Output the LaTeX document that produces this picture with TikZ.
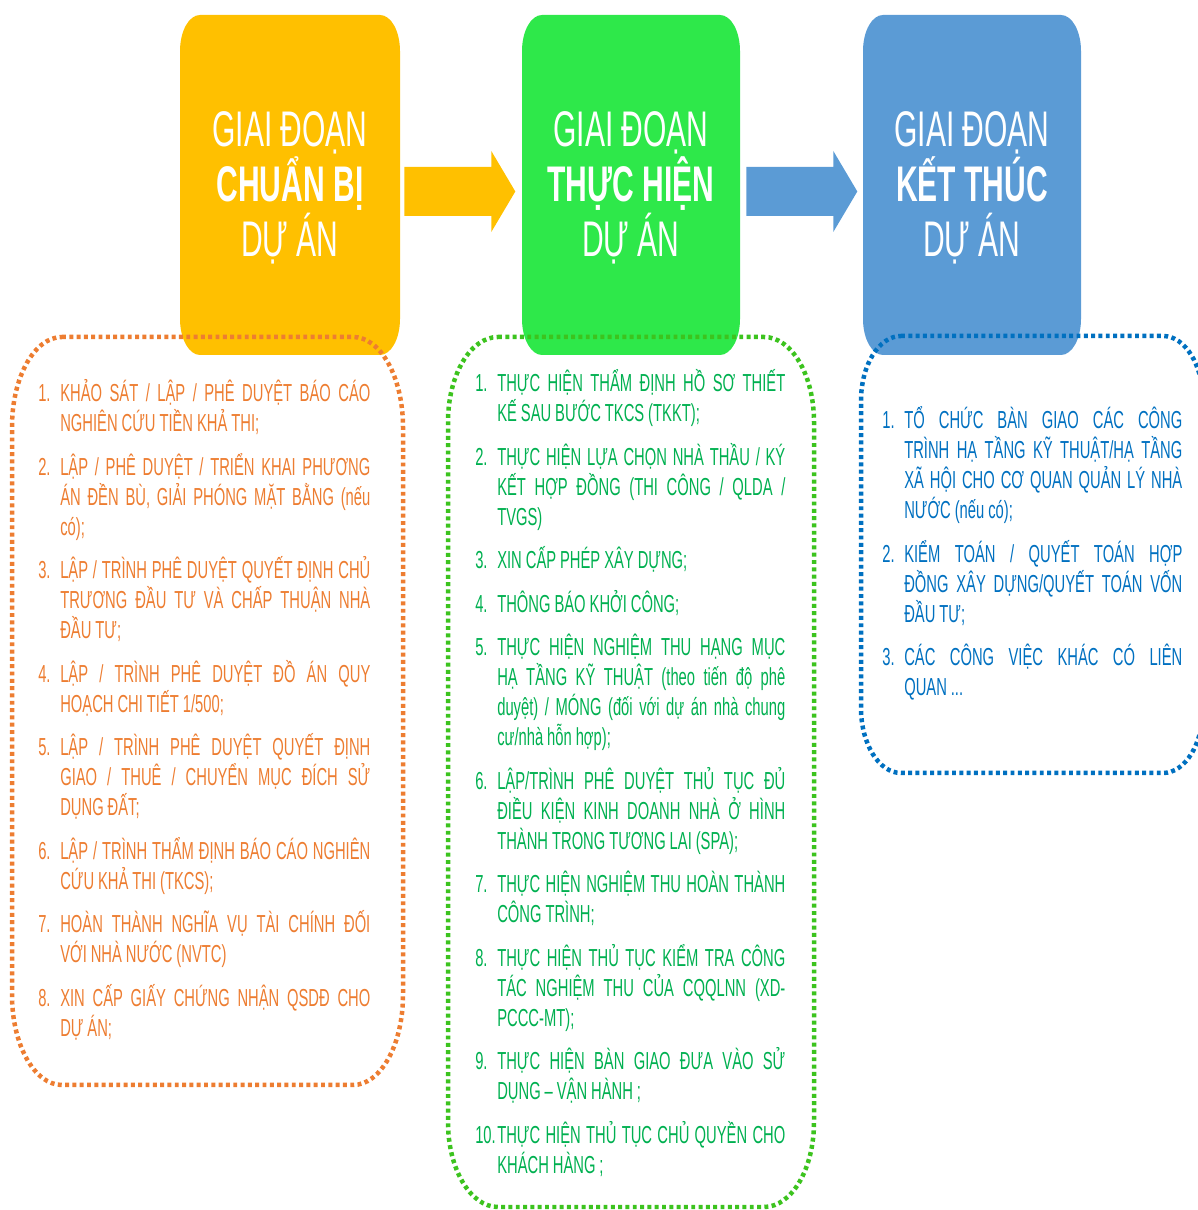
\documentclass[tikz,border=0pt]{standalone}
\usepackage{fontspec}
\newfontfamily\stagefont[FakeStretch=0.6]{Liberation Sans}
\usetikzlibrary{calc}

\definecolor{prepfill}{HTML}{FFC000}
\definecolor{execfill}{HTML}{2EE84A}
\definecolor{closefill}{HTML}{5B9BD5}
\definecolor{preptext}{HTML}{ED7D31}
\definecolor{exectext}{HTML}{00B050}
\definecolor{execdots}{HTML}{3CC31E}
\definecolor{closetext}{HTML}{0070C0}

\newcommand{\stageitem}[2]{\par\hangindent=0.55cm\hangafter=1\noindent\makebox[0.55cm][l]{\rule{0pt}{16pt}#1}#2\par\vspace{9.7pt}}
\newcommand{\softframe}[7]{\path[#1] ({#2+#6},#5) -- ({#4-#6},#5) arc[start angle=90,end angle=0,x radius=#6,y radius=#7] -- (#4,{#3+#7}) arc[start angle=0,end angle=-90,x radius=#6,y radius=#7] -- ({#2+#6},#3) arc[start angle=-90,end angle=-180,x radius=#6,y radius=#7] -- (#2,{#5-#7}) arc[start angle=180,end angle=90,x radius=#6,y radius=#7] -- cycle;}

\begin{document}
\begin{tikzpicture}[x=0.025cm, y=0.025cm,
    stagetitle/.style = {minimum width=5.5cm, minimum height=8.5cm, inner sep=0pt, align=center, text=white,
        font=\stagefont\fontsize{35.6}{39.1}\selectfont},
    steplist/.style = {anchor=north west, inner sep=0pt, text width=#1, align=justify,
        font=\stagefont\fontsize{17.5}{21.3}\selectfont,
        execute at begin node={\parskip=0pt\rightskip=0pt\spaceskip=0.16em plus 0.8em minus 0.04em\hyphenpenalty=10000\tolerance=10000}},
    dotframe/.style = {draw=#1, line width=3.2pt, dash pattern=on 2.8pt off 2.4pt},
    stagearrow/.pic = {\path[pic actions] (0,-24.5) -- (87,-24.5) -- (87,-40.5) -- (111,0) -- (87,40.5) -- (87,24.5) -- (0,24.5) -- cycle;}]
\useasboundingbox (0,0) rectangle (1197,1210);

\softframe{fill=prepfill}{180}{855}{400}{1195}{20}{36}
\softframe{fill=execfill}{522}{855}{740}{1195}{20}{36}
\softframe{fill=closefill}{863}{855}{1081}{1195}{20}{36}

\node[stagetitle] (prep) at (290,1022) {GIAI ĐOẠN\\\textbf{CHUẨN BỊ}\\DỰ ÁN};
\node[stagetitle] (exec) at (631,1022) {GIAI ĐOẠN\\\textbf{THỰC HIỆN}\\DỰ ÁN};
\node[stagetitle] (close) at (972,1022) {GIAI ĐOẠN\\\textbf{KẾT THÚC}\\DỰ ÁN};

\pic[fill=prepfill] at ($(prep.east)+(4,-3.5)$) {stagearrow};
\pic[fill=closefill] at ($(exec.east)+(5,-3.5)$) {stagearrow};

\softframe{dotframe=preptext}{12}{125}{403}{873}{50}{90}
\softframe{dotframe=execdots}{448}{3}{814}{873}{50}{85}
\softframe{dotframe=closetext}{861}{437}{1203}{874}{40}{65}

\node[steplist=8.3cm, text=preptext] (preplist) at (38,838.5) {%
\stageitem{1.}{KHẢO SÁT / LẬP / PHÊ DUYỆT BÁO CÁO \linebreak NGHIÊN CỨU TIỀN KHẢ THI;}
\stageitem{2.}{LẬP / PHÊ DUYỆT / TRIỂN KHAI PHƯƠNG \linebreak ÁN ĐỀN BÙ, GIẢI PHÓNG MẶT BẰNG (nếu \linebreak có);}
\stageitem{3.}{LẬP / TRÌNH PHÊ DUYỆT QUYẾT ĐỊNH CHỦ \linebreak TRƯƠNG ĐẦU TƯ VÀ CHẤP THUẬN NHÀ \linebreak ĐẦU TƯ;}
\stageitem{4.}{LẬP / TRÌNH PHÊ DUYỆT ĐỒ ÁN QUY \linebreak HOẠCH CHI TIẾT 1/500;}
\stageitem{5.}{LẬP / TRÌNH PHÊ DUYỆT QUYẾT ĐỊNH \linebreak GIAO / THUÊ / CHUYỂN MỤC ĐÍCH SỬ \linebreak DỤNG ĐẤT;}
\stageitem{6.}{LẬP / TRÌNH THẨM ĐỊNH BÁO CÁO NGHIÊN \linebreak CỨU KHẢ THI (TKCS);}
\stageitem{7.}{HOÀN THÀNH NGHĨA VỤ TÀI CHÍNH ĐỐI \linebreak VỚI NHÀ NƯỚC (NVTC)}
\stageitem{8.}{XIN CẤP GIẤY CHỨNG NHẬN QSDĐ CHO \linebreak DỰ ÁN;}};

\node[steplist=7.75cm, text=exectext] (execlist) at (475,848.5) {%
\stageitem{1.}{THỰC HIỆN THẨM ĐỊNH HỒ SƠ THIẾT \linebreak KẾ SAU BƯỚC TKCS (TKKT);}
\stageitem{2.}{THỰC HIỆN LỰA CHỌN NHÀ THẦU / KÝ \linebreak KẾT HỢP ĐỒNG (THI CÔNG / QLDA / \linebreak TVGS)}
\stageitem{3.}{XIN CẤP PHÉP XÂY DỰNG;}
\stageitem{4.}{THÔNG BÁO KHỞI CÔNG;}
\stageitem{5.}{THỰC HIỆN NGHIỆM THU HẠNG MỤC \linebreak HẠ TẦNG KỸ THUẬT (theo tiến độ phê \linebreak duyệt) / MÓNG (đối với dự án nhà chung \linebreak cư/nhà hỗn hợp);}
\stageitem{6.}{LẬP/TRÌNH PHÊ DUYỆT THỦ TỤC ĐỦ \linebreak ĐIỀU KIỆN KINH DOANH NHÀ Ở HÌNH \linebreak THÀNH TRONG TƯƠNG LAI (SPA);}
\stageitem{7.}{THỰC HIỆN NGHIỆM THU HOÀN THÀNH \linebreak CÔNG TRÌNH;}
\stageitem{8.}{THỰC HIỆN THỦ TỤC KIỂM TRA CÔNG \linebreak TÁC NGHIỆM THU CỦA CQQLNN (XD-\linebreak PCCC-MT);}
\stageitem{9.}{THỰC HIỆN BÀN GIAO ĐƯA VÀO SỬ \linebreak DỤNG – VẬN HÀNH ;}
\stageitem{10.}{THỰC HIỆN THỦ TỤC CHỦ QUYỀN CHO \linebreak KHÁCH HÀNG ;}};

\node[steplist=7.5cm, text=closetext] (closelist) at (882,811.5) {%
\stageitem{1.}{TỔ CHỨC BÀN GIAO CÁC CÔNG \linebreak TRÌNH HẠ TẦNG KỸ THUẬT/HẠ TẦNG \linebreak XÃ HỘI CHO CƠ QUAN QUẢN LÝ NHÀ \linebreak NƯỚC (nếu có);}
\stageitem{2.}{KIỂM TOÁN / QUYẾT TOÁN HỢP \linebreak ĐỒNG XÂY DỰNG/QUYẾT TOÁN VỐN \linebreak ĐẦU TƯ;}
\stageitem{3.}{CÁC CÔNG VIỆC KHÁC CÓ LIÊN \linebreak QUAN ...}};
\end{tikzpicture}
\end{document}
